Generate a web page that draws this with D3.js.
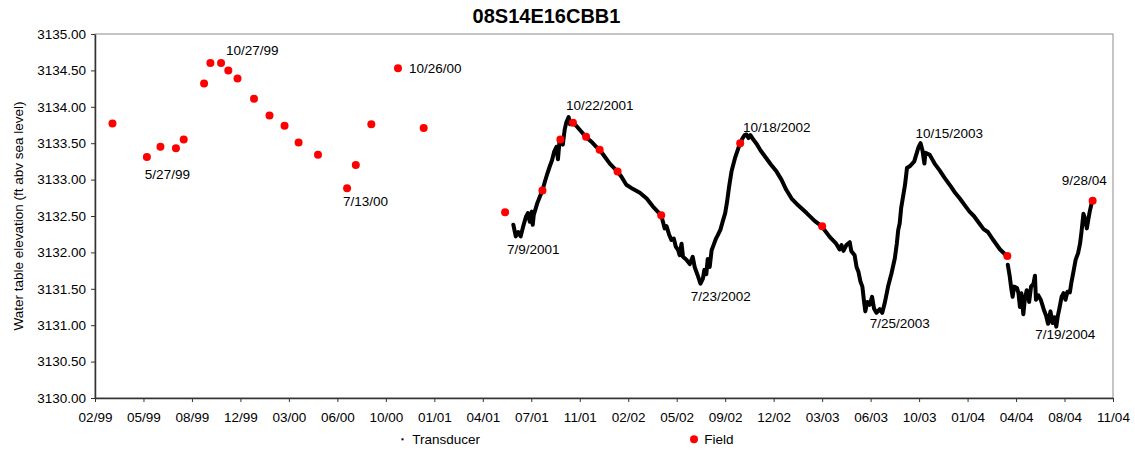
<!DOCTYPE html>
<html>
<head>
<meta charset="utf-8">
<script src="https://cdn.jsdelivr.net/npm/d3@7"></script>
<style>
  body { margin: 0; background: #fff; }
  svg { font-family: "Liberation Sans", Arial, sans-serif; }
</style>
</head>
<body>
<div id="chart"></div>
<script>
// ---- data ----
var chartTitle = "08S14E16CBB1";
var yTicks = [3130, 3130.5, 3131, 3131.5, 3132, 3132.5, 3133, 3133.5, 3134, 3134.5, 3135];
var xTickLabels = ["02/99", "05/99", "08/99", "12/99", "03/00", "06/00", "10/00", "01/01", "04/01", "07/01", "11/01",
  "02/02", "05/02", "09/02", "12/02", "03/03", "06/03", "10/03", "01/04", "04/04", "08/04", "11/04"];
var axisStart = "1999-02-09";   // first tick, ticks every 100 days
var tickStepDays = 100;

var fieldDates = ["1999-03-17", "1999-05-27", "1999-06-24", "1999-07-26", "1999-08-11", "1999-09-22", "1999-10-05",
  "1999-10-27", "1999-11-11", "1999-11-30", "2000-01-03", "2000-02-04", "2000-03-06", "2000-04-04", "2000-05-14",
  "2000-07-13", "2000-07-31", "2000-09-01", "2000-10-26", "2000-12-18", "2001-06-04", "2001-08-20", "2001-09-26",
  "2001-10-22", "2001-11-18", "2001-12-16", "2002-01-22", "2002-04-22", "2002-10-02", "2003-03-20", "2004-04-05",
  "2004-09-28"];
var fieldLevels = [3133.77, 3133.31, 3133.45, 3133.43, 3133.55, 3134.32, 3134.60, 3134.60, 3134.50, 3134.39, 3134.11,
  3133.88, 3133.74, 3133.51, 3133.34, 3132.88, 3133.20, 3133.76, 3134.53, 3133.71, 3132.55, 3132.85, 3133.55,
  3133.78, 3133.59, 3133.41, 3133.11, 3132.51, 3133.50, 3132.36, 3131.95, 3132.71];

var transducerDates = [
  "2001-06-21", "2001-06-26", "2001-07-01", "2001-07-06", "2001-07-11", "2001-07-17", "2001-07-21", "2001-07-25", "2001-07-29", "2001-07-31",
  "2001-08-02", "2001-08-09", "2001-08-15", "2001-08-20", "2001-08-25", "2001-08-30", "2001-09-04", "2001-09-09", "2001-09-13", "2001-09-18",
  "2001-09-21", "2001-09-24", "2001-09-28", "2001-10-01", "2001-10-05", "2001-10-08", "2001-10-13", "2001-10-16", "2001-10-21", "2001-10-30",
  "2001-11-08", "2001-11-17", "2001-11-29", "2001-12-09", "2001-12-16", "2001-12-27",
  "2002-01-06", "2002-01-22", "2002-01-30", "2002-02-09", "2002-02-23", "2002-03-09", "2002-03-23", "2002-04-05", "2002-04-22", "2002-04-26",
  "2002-04-29", "2002-05-03", "2002-05-08", "2002-05-13", "2002-05-18", "2002-05-22", "2002-05-27", "2002-05-30", "2002-06-03", "2002-06-06",
  "2002-06-13", "2002-06-20", "2002-06-26", "2002-06-30", "2002-07-07", "2002-07-12", "2002-07-17", "2002-07-20", "2002-07-24", "2002-07-27",
  "2002-07-31", "2002-08-04", "2002-08-08", "2002-08-13", "2002-08-17", "2002-08-22", "2002-08-28", "2002-09-01", "2002-09-05", "2002-09-09",
  "2002-09-14", "2002-09-21", "2002-09-28", "2002-10-02", "2002-10-07", "2002-10-11", "2002-10-15", "2002-10-19", "2002-10-23", "2002-10-29",
  "2002-11-05", "2002-11-13", "2002-11-24", "2002-12-05", "2002-12-16", "2002-12-26",
  "2003-01-05", "2003-01-16", "2003-01-29", "2003-02-16", "2003-03-05", "2003-03-19", "2003-04-05", "2003-04-18", "2003-04-25", "2003-04-29",
  "2003-05-03", "2003-05-09", "2003-05-16", "2003-05-19", "2003-05-26", "2003-05-30", "2003-06-03", "2003-06-07", "2003-06-11", "2003-06-14",
  "2003-06-17", "2003-06-21", "2003-06-26", "2003-07-01", "2003-07-05", "2003-07-10", "2003-07-17", "2003-07-22", "2003-07-27", "2003-08-03",
  "2003-08-10", "2003-08-17", "2003-08-21", "2003-08-24", "2003-08-27", "2003-08-30", "2003-09-03", "2003-09-07", "2003-09-11", "2003-09-18",
  "2003-09-26", "2003-09-30", "2003-10-05", "2003-10-09", "2003-10-13", "2003-10-17", "2003-10-19", "2003-10-28", "2003-11-07", "2003-11-17",
  "2003-11-28", "2003-12-10", "2003-12-18", "2003-12-29",
  "2004-01-08", "2004-01-18", "2004-01-27", "2004-02-07", "2004-02-16", "2004-02-25", "2004-03-07", "2004-03-21", "2004-04-04",
  "2004-04-05",
  "2004-04-06", "2004-04-10", "2004-04-13", "2004-04-16", "2004-04-19", "2004-04-25", "2004-04-28", "2004-05-01", "2004-05-04", "2004-05-08",
  "2004-05-11", "2004-05-15", "2004-05-20", "2004-05-24", "2004-05-29", "2004-06-01", "2004-06-03", "2004-06-08", "2004-06-13", "2004-06-19",
  "2004-06-24", "2004-06-28", "2004-07-03", "2004-07-07", "2004-07-11", "2004-07-15", "2004-07-18", "2004-07-22", "2004-07-26", "2004-07-30",
  "2004-08-03", "2004-08-07", "2004-08-12", "2004-08-15", "2004-08-19", "2004-08-24", "2004-08-29", "2004-09-02", "2004-09-05", "2004-09-09",
  "2004-09-13", "2004-09-16", "2004-09-19", "2004-09-22", "2004-09-27"];
var transducerLevels = [
  3132.38, 3132.22, 3132.28, 3132.22, 3132.35, 3132.49, 3132.54, 3132.42, 3132.56, 3132.38,
  3132.51, 3132.67, 3132.77, 3132.85, 3132.97, 3133.08, 3133.18, 3133.27, 3133.38, 3133.45,
  3133.28, 3133.51, 3133.57, 3133.48, 3133.69, 3133.78, 3133.86, 3133.76, 3133.79, 3133.73,
  3133.66, 3133.59, 3133.52, 3133.45, 3133.41, 3133.31,
  3133.22, 3133.11, 3133.04, 3132.93, 3132.87, 3132.82, 3132.74, 3132.63, 3132.51, 3132.41,
  3132.33, 3132.36, 3132.25, 3132.17, 3132.19, 3132.08, 3132.03, 3131.96, 3132.12, 3131.94,
  3131.90, 3131.84, 3131.94, 3131.80, 3131.67, 3131.57, 3131.64, 3131.76, 3131.70, 3131.91,
  3131.80, 3132.03, 3132.10, 3132.19, 3132.24, 3132.31, 3132.45, 3132.54, 3132.70, 3132.90,
  3133.11, 3133.29, 3133.43, 3133.50, 3133.57, 3133.61, 3133.62, 3133.57, 3133.61, 3133.55,
  3133.49, 3133.40, 3133.30, 3133.20, 3133.11, 3133.00,
  3132.86, 3132.74, 3132.65, 3132.54, 3132.43, 3132.36, 3132.21, 3132.12, 3132.04, 3132.10,
  3132.02, 3132.10, 3132.14, 3132.02, 3131.96, 3131.80, 3131.73, 3131.60, 3131.53, 3131.35,
  3131.19, 3131.32, 3131.28, 3131.39, 3131.23, 3131.17, 3131.22, 3131.17, 3131.30, 3131.53,
  3131.71, 3131.92, 3132.12, 3132.31, 3132.40, 3132.61, 3132.77, 3132.93, 3133.16, 3133.19,
  3133.25, 3133.34, 3133.45, 3133.50, 3133.40, 3133.22, 3133.37, 3133.34, 3133.22, 3133.13,
  3133.02, 3132.91, 3132.83, 3132.74,
  3132.65, 3132.56, 3132.50, 3132.40, 3132.32, 3132.28, 3132.17, 3132.04, 3131.95,
  null,
  3131.83, 3131.67, 3131.51, 3131.39, 3131.53, 3131.51, 3131.44, 3131.25, 3131.44, 3131.15,
  3131.35, 3131.48, 3131.32, 3131.53, 3131.57, 3131.68, 3131.35, 3131.41, 3131.35, 3131.22,
  3131.13, 3131.02, 3131.19, 3131.03, 3131.11, 3130.98, 3131.12, 3131.25, 3131.39, 3131.44,
  3131.35, 3131.46, 3131.45, 3131.58, 3131.72, 3131.90, 3131.99, 3132.12, 3132.28, 3132.53,
  3132.45, 3132.33, 3132.45, 3132.56, 3132.71];

// date labels and the level they point at
var noteTexts = ["5/27/99", "10/27/99", "7/13/00", "10/26/00", "7/9/2001", "10/22/2001", "7/23/2002",
  "10/18/2002", "7/25/2003", "10/15/2003", "7/19/2004", "9/28/04"];
var noteLevels = [3133.31, 3134.60, 3132.88, 3134.53, 3132.22, 3133.86, 3131.57,
  3133.62, 3131.17, 3133.50, 3130.98, 3132.71];
// pixel nudges of each label from its point (layout only)
var noteShift = [[-2, 22], [5, -8], [-4, 18], [11, 5], [-15, 18], [-7, -7], [-15, 17],
  [-5, -2.5], [-14, 15], [-8, -5], [-23, 12], [-31, -16]];

var legendNames = ["Transducer", "Field"];

// ---- chart ----
var margin = { top: 34, right: 22, bottom: 52, left: 95 },
  fullW = 1135, fullH = 450,
  width = fullW - margin.left - margin.right,
  height = fullH - margin.top - margin.bottom;

var parseDate = d3.timeParse("%Y-%m-%d");
var parseNote = d3.timeParse("%m/%d/%Y");
var parseNoteShort = d3.timeParse("%m/%d/%y");
var t0 = parseDate(axisStart);
var tickDates = xTickLabels.map(function (d, i) { return d3.timeDay.offset(t0, i * tickStepDays); });

var x = d3.scaleTime()
  .domain([t0, tickDates[tickDates.length - 1]])
  .range([0, width]);

var y = d3.scaleLinear()
  .domain([3130, 3135])
  .range([height, 0]);

var svg = d3.select("#chart").append("svg")
  .attr("width", fullW)
  .attr("height", fullH);

svg.append("text")
  .attr("x", 546.5)
  .attr("y", 22.5)
  .attr("text-anchor", "middle")
  .style("font-weight", "bold")
  .style("font-size", "20px")
  .text(chartTitle);

var g = svg.append("g")
  .attr("transform", "translate(" + margin.left + "," + margin.top + ")");

// plot border (top / right in grey)
g.append("rect")
  .attr("width", width)
  .attr("height", height)
  .attr("fill", "none")
  .attr("stroke", "#8c8c8c")
  .attr("stroke-width", 1);

var xAxis = d3.axisBottom(x)
  .tickValues(tickDates)
  .tickFormat(function (d, i) { return xTickLabels[i]; })
  .tickSizeInner(4)
  .tickSizeOuter(0)
  .tickPadding(10);

var yAxis = d3.axisLeft(y)
  .tickValues(yTicks)
  .tickFormat(d3.format(".2f"))
  .tickSizeInner(4)
  .tickSizeOuter(0)
  .tickPadding(5);

var gx = g.append("g")
  .attr("transform", "translate(0," + height + ")")
  .call(xAxis);

var gy = g.append("g").call(yAxis);

[gx, gy].forEach(function (ax) {
  ax.select(".domain").attr("stroke", "#333").attr("stroke-width", 1.5);
  ax.selectAll(".tick line").attr("stroke", "#333");
  ax.selectAll("text")
    .attr("fill", "#000")
    .style("font-size", "13.5px")
    .style("font-family", "'Liberation Sans', Arial, sans-serif");
});

svg.append("text")
  .attr("transform", "translate(23," + (margin.top + height / 2) + ") rotate(-90)")
  .attr("text-anchor", "middle")
  .style("font-size", "13.5px")
  .text("Water table elevation (ft abv sea level)");

// transducer line
var transducer = transducerDates.map(function (d, i) {
  return { date: parseDate(d), level: transducerLevels[i] };
});

var line = d3.line()
  .defined(function (d) { return d.level !== null; })
  .x(function (d) { return x(d.date); })
  .y(function (d) { return y(d.level); });

g.append("path")
  .datum(transducer)
  .attr("d", line)
  .attr("fill", "none")
  .attr("stroke", "#000")
  .attr("stroke-width", 4)
  .attr("stroke-linejoin", "round")
  .attr("stroke-linecap", "round");

// field measurements
var field = fieldDates.map(function (d, i) {
  return { date: parseDate(d), level: fieldLevels[i] };
});

g.selectAll(".field")
  .data(field)
  .enter().append("circle")
  .attr("class", "field")
  .attr("cx", function (d) { return x(d.date); })
  .attr("cy", function (d) { return y(d.level); })
  .attr("r", 4)
  .attr("fill", "#ff0000");

// date notes
g.selectAll(".note")
  .data(noteTexts)
  .enter().append("text")
  .attr("class", "note")
  .attr("x", function (d, i) {
    var dt = d.split("/")[2].length === 4 ? parseNote(d) : parseNoteShort(d);
    return x(dt) + noteShift[i][0];
  })
  .attr("y", function (d, i) { return y(noteLevels[i]) + noteShift[i][1]; })
  .style("font-size", "13.5px")
  .attr("fill", "#000")
  .text(function (d) { return d; });

// legend
var legend = svg.append("g");
legend.append("rect")
  .attr("x", 401.5).attr("y", 438.3)
  .attr("width", 2).attr("height", 2)
  .attr("fill", "#000");
legend.append("text")
  .attr("x", 412.3).attr("y", 444)
  .style("font-size", "13.5px")
  .text(legendNames[0]);
legend.append("circle")
  .attr("cx", 694).attr("cy", 439.3).attr("r", 4)
  .attr("fill", "#ff0000");
legend.append("text")
  .attr("x", 704.3).attr("y", 444)
  .style("font-size", "13.5px")
  .text(legendNames[1]);
</script>
</body>
</html>
